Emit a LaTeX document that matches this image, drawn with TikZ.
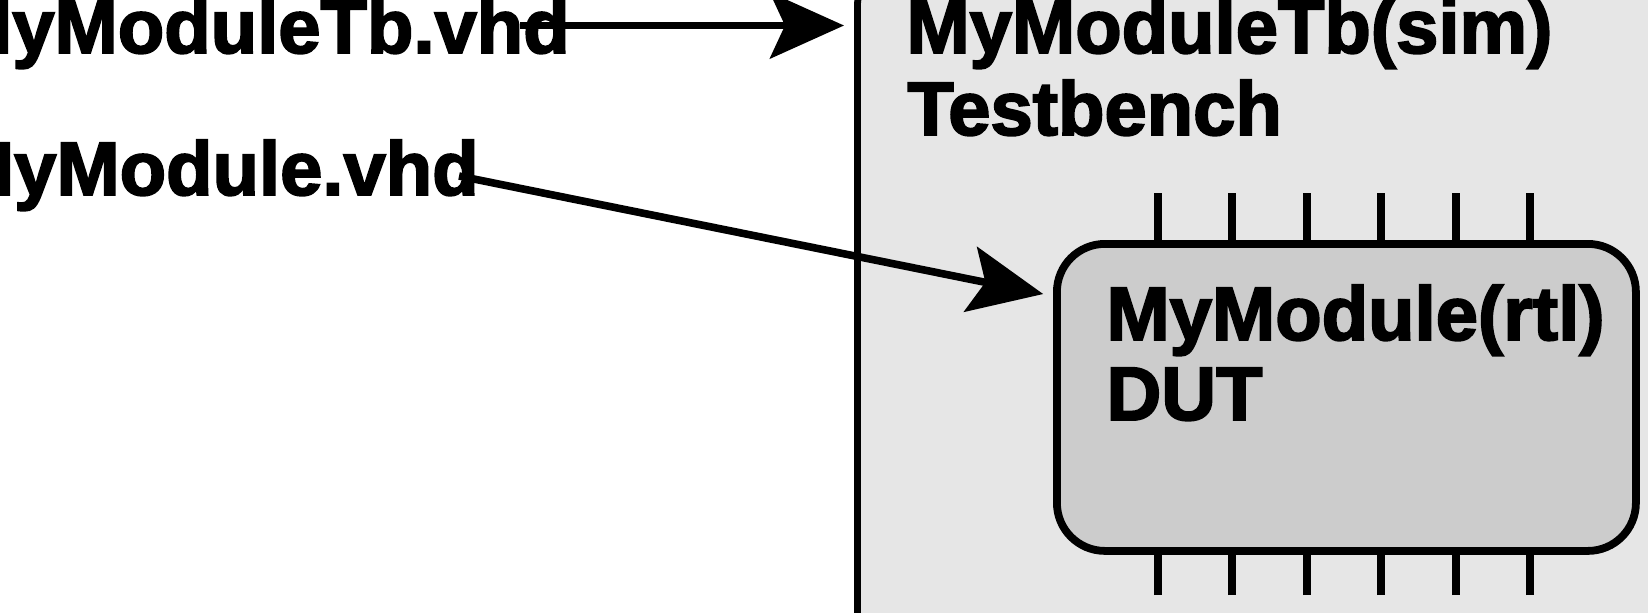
\documentclass[tikz,border=0pt]{standalone}
\usepackage{fontspec}
\newfontfamily\lblfont{Liberation Sans Bold}[FakeBold=2.5]
\usetikzlibrary{arrows.meta,calc}
\definecolor{tbgray}{HTML}{E6E6E6}
\definecolor{dutgray}{HTML}{CCCCCC}
\begin{document}
\begin{tikzpicture}[x=0.5pt,y=-0.5pt,
  lbl/.style={font=\lblfont\fontsize{38}{42}\selectfont, inner sep=0pt, text=black},
  tbbox/.style={draw=black, line width=3.4pt, fill=tbgray, rounded corners=24pt, inner sep=0pt, anchor=north west},
  dutbox/.style={draw=black, line width=3.9pt, fill=dutgray, rounded corners=24pt, inner sep=0pt, anchor=north west},
  pinline/.style={draw=black, line width=3.8pt},
  conn/.style={draw=black, line width=3.8pt, -{Stealth[length=37pt,width=33pt,inset=7.5pt]}}
]
\useasboundingbox (0,0) rectangle (1648,612);
\clip (0,0) rectangle (1648,612);

% testbench box
\node[tbbox, minimum width=422pt, minimum height=350pt] (tb) at (854,-45) {};
\node[lbl, anchor=base west] (tbname) at (906,53) {MyModuleTb(sim)};
\node[lbl, anchor=base west] (tbrole) at (907,135) {Testbench};

% DUT pins
\foreach \px [count=\i] in {1158,1232,1307,1381,1456,1530} {
  \coordinate (pt\i) at (\px,193);
  \coordinate (pb\i) at (\px,595);
}
% DUT box
\node[dutbox, minimum width=289.5pt, minimum height=153.5pt] (dut) at (1053,240) {};
\foreach \i in {1,...,6} {
  \draw[pinline] (pt\i) -- (pt\i |- dut.north);
  \draw[pinline] (pb\i) -- (pb\i |- dut.south);
}
\node[lbl, anchor=base west] (dutname) at (1106,340) {MyModule(rtl)};
\node[lbl, anchor=base west] (dutrole) at (1106,420) {DUT};

% source files
\node[lbl, anchor=base east] (tbfile) at (570,53) {MyModuleTb.vhd};
\node[lbl, anchor=base east] (dutfile) at (479,195) {MyModule.vhd};

\coordinate (s1) at (520,25.5);
\coordinate (s2) at (459,176);
\coordinate (e2) at ($(dut.north west)+(0,56)$);

\draw[conn, shorten >=10*0.5pt] (s1) -- (s1 -| tb.west);
\draw[conn, shorten >=10*0.5pt] (s2) -- (e2);
\end{tikzpicture}
\end{document}
